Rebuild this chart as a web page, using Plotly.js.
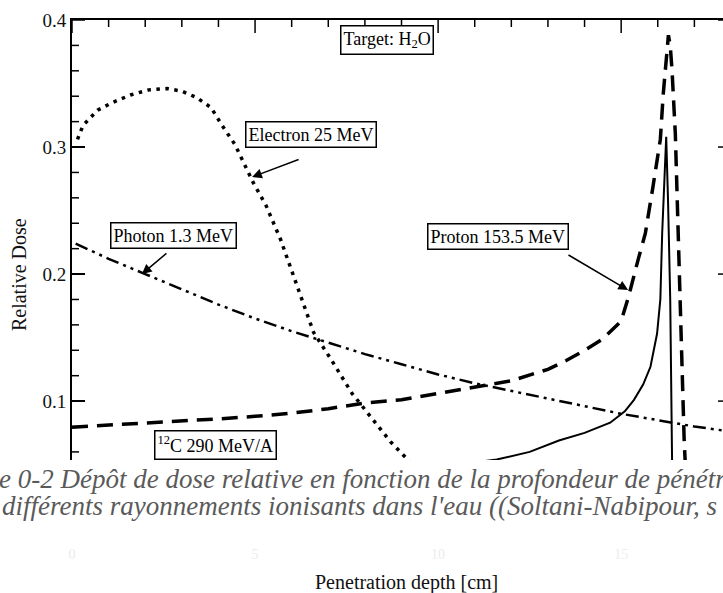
<!DOCTYPE html>
<html>
<head>
<meta charset="utf-8">
<script src="https://cdn.plot.ly/plotly-3.0.1.min.js"></script>
<style>
html, body { margin: 0; padding: 0; overflow: hidden; background: #ffffff; }
#chart { width: 731px; height: 593px; }
</style>
</head>
<body>
<div id="chart"></div>
<script>
// ---- data (depth in cm, relative dose) ----
const electronDepth = [0.15, 0.3, 0.7, 1.1, 1.6, 2.1, 2.6, 3.0, 3.4, 3.8, 4.1, 4.45, 4.95, 5.3, 5.7, 6.2, 6.6, 7.05, 7.65, 7.9, 8.7, 9.1, 9.7, 10.3, 11.0, 11.6];
const electronDose  = [0.306, 0.317, 0.329, 0.335, 0.341, 0.345, 0.346, 0.344, 0.339, 0.331, 0.317, 0.302, 0.272, 0.254, 0.227, 0.186, 0.154, 0.134, 0.106, 0.097, 0.068, 0.056, 0.038, 0.022, 0.010, 0.004];

const photonDepth = [0.1, 1, 2, 3, 4, 5, 6, 7, 8, 9, 10, 11, 12, 13, 14, 15, 16, 17, 18];
const photonDose  = [0.224, 0.212, 0.200, 0.188, 0.176, 0.165, 0.155, 0.146, 0.137, 0.129, 0.121, 0.114, 0.108, 0.102, 0.096, 0.090, 0.085, 0.080, 0.076];

const protonDepth = [0, 1, 2, 3, 4, 5, 6, 7, 8, 9, 10, 11, 12, 13, 13.5, 14, 14.5, 15, 15.2, 15.46, 15.66, 15.87, 16.07, 16.15, 16.23, 16.29, 16.34, 16.39, 16.48, 16.56, 16.64, 16.72, 16.80, 16.89];
const protonDose  = [0.0795, 0.081, 0.0825, 0.084, 0.086, 0.088, 0.0905, 0.094, 0.0985, 0.101, 0.106, 0.111, 0.116, 0.125, 0.132, 0.140, 0.149, 0.163, 0.182, 0.211, 0.232, 0.269, 0.306, 0.342, 0.369, 0.388, 0.380, 0.360, 0.310, 0.225, 0.140, 0.070, 0.020, 0.005];

const carbonDepth = [0, 2, 4, 6, 8, 10, 11.6, 12.5, 13.3, 14.0, 14.7, 15.1, 15.35, 15.6, 15.8, 15.98, 16.07, 16.12, 16.17, 16.23, 16.28, 16.34, 16.39, 16.43, 16.5, 17, 18];
const carbonDose  = [0.033, 0.035, 0.037, 0.040, 0.043, 0.048, 0.054, 0.060, 0.069, 0.075, 0.083, 0.092, 0.101, 0.113, 0.127, 0.153, 0.180, 0.232, 0.269, 0.308, 0.258, 0.180, 0.054, 0.020, 0.015, 0.012, 0.010];

// axis ticks: major step / minor step
const xRange = [0, 18];
const yRange = [0.0001, 0.4];
const xTickSteps = [5, 1];
const yTickSteps = [0.1, 0.02];

const seriesNames = ['Electron 25 MeV', 'Photon 1.3 MeV', 'Proton 153.5 MeV', '<sup>12</sup>C 290 MeV/A'];

// ---- geometry / styling ----
const W = 731, H = 593;
const M = { l: 72, r: 0, t: 20, b: 65 };
const plotW = W - M.l - M.r, plotH = H - M.t - M.b;
const serif = 'Liberation Serif, Times New Roman, serif';

// inside tick marks (top and right mirrored), built from the axis steps; lengths in px
function isMajor(v, major) { return Math.abs(v / major - Math.round(v / major)) < 1e-6; }
const pxX = (xRange[1] - xRange[0]) / plotW;   // data units per px, x
const pxY = (yRange[1] - yRange[0]) / plotH;   // data units per px, y
const tickX = [], tickY = [];
for (let k = 0; k * xTickSteps[1] <= xRange[1] + 1e-9; k++) {
  const v = k * xTickSteps[1];
  const len = (isMajor(v, xTickSteps[0]) ? 13 : 7) * pxY;
  tickX.push(v, v, null); tickY.push(yRange[1], yRange[1] - len, null);
}
for (let k = 1; k * yTickSteps[1] <= yRange[1] + 1e-9; k++) {
  const v = k * yTickSteps[1];
  const len = (isMajor(v, yTickSteps[0]) ? 13 : 7) * pxX;
  tickX.push(xRange[0], xRange[0] + len, null); tickY.push(v, v, null);
  tickX.push(xRange[1], xRange[1] - len, null); tickY.push(v, v, null);
}

const traces = [
  { x: tickX, y: tickY, mode: 'lines', hoverinfo: 'skip', showlegend: false, connectgaps: false,
    line: { color: '#000', width: 1.5 } },
  { x: electronDepth, y: electronDose, name: seriesNames[0], mode: 'lines',
    line: { color: '#000', width: 3.5, dash: '3.5px,5.5px' } },
  { x: photonDepth, y: photonDose, name: seriesNames[1], mode: 'lines',
    line: { color: '#000', width: 2.5, dash: '13px,5px,3px,5px,3px,5px' } },
  { x: protonDepth, y: protonDose, name: seriesNames[2], mode: 'lines',
    line: { color: '#000', width: 3.5, dash: '16px,9px' } },
  { x: carbonDepth, y: carbonDose, name: seriesNames[3], mode: 'lines',
    line: { color: '#000', width: 2 } }
];

function boxLabel(text, x, y) {
  return { text: text, x: x, y: y, xref: 'x', yref: 'y', showarrow: false,
    font: { family: serif, size: 18, color: '#000' },
    bgcolor: '#fff', bordercolor: '#000', borderwidth: 1.5, borderpad: 2,
    xanchor: 'center', yanchor: 'middle' };
}
function arrow(xh, yh, xt, yt) {
  return { text: ' ', x: xh, y: yh, ax: xt, ay: yt, xref: 'x', yref: 'y', axref: 'x', ayref: 'y',
    showarrow: true, arrowhead: 2, arrowsize: 1.3, arrowwidth: 1.5, arrowcolor: '#000', standoff: 0,
    font: { size: 1 } };
}

const annotations = [
  boxLabel('Target: H<sub>2</sub>O', 8.61, 0.3846),
  boxLabel(seriesNames[0], 6.53, 0.3098),
  boxLabel(seriesNames[1], 2.76, 0.2303),
  boxLabel(seriesNames[2], 11.64, 0.2299),
  boxLabel(seriesNames[3], 3.91, 0.0655),
  arrow(4.92, 0.2764, 6.23, 0.2906),
  arrow(1.91, 0.200, 2.62, 0.2173),
  arrow(15.19, 0.1874, 13.52, 0.2157),
  { text: 'Relative Dose', xref: 'paper', yref: 'paper', x: -0.0804, y: 0.498, textangle: -90,
    showarrow: false, xanchor: 'center', yanchor: 'middle',
    font: { family: serif, size: 20, color: '#111' } },
  { text: 'Penetration depth [cm]', xref: 'paper', yref: 'paper', x: 0.507, y: -0.108,
    showarrow: false, xanchor: 'center', yanchor: 'middle',
    font: { family: serif, size: 20, color: '#111' } },
  { text: '<i>e 0-2 Dépôt de dose relative en fonction de la profondeur de pénétr</i>', xref: 'paper', yref: 'paper',
    x: -0.1138, y: 0.0965, xanchor: 'left', yanchor: 'middle', showarrow: false,
    font: { family: serif, size: 27, color: '#5a5a5a' } },
  { text: "<i>différents rayonnements ionisants dans l'eau ((Soltani-Nabipour, s</i>", xref: 'paper', yref: 'paper',
    x: -0.1093, y: 0.0433, xanchor: 'left', yanchor: 'middle', showarrow: false,
    font: { family: serif, size: 27, color: '#5a5a5a' } }
];

// white caption block covering the lower part of the chart
const coverShape = { type: 'rect', xref: 'paper', yref: 'paper', x0: -0.15, x1: 1.05, y0: -0.03, y1: 0.1339,
  fillcolor: '#fff', line: { width: 0 }, layer: 'above' };

const layout = {
  width: W, height: H,
  margin: { l: M.l, r: M.r, t: M.t, b: M.b, pad: 0 },
  paper_bgcolor: '#fff', plot_bgcolor: '#fff',
  showlegend: false,
  xaxis: {
    range: xRange, tick0: 0, dtick: xTickSteps[0],
    ticks: 'inside', ticklen: 13, tickwidth: 1.5, tickcolor: '#000',
    showline: true, linewidth: 2, linecolor: '#000', mirror: true,
    showgrid: false, zeroline: false,
    tickfont: { family: serif, size: 14, color: '#ececec' }, ticklabelstandoff: 12
  },
  yaxis: {
    range: yRange, tick0: 0, dtick: yTickSteps[0],
    ticks: 'inside', ticklen: 13, tickwidth: 1.5, tickcolor: '#000',
    showline: true, linewidth: 2, linecolor: '#000', mirror: true,
    showgrid: false, zeroline: false,
    tickfont: { family: serif, size: 19, color: '#111' }
  },
  shapes: [coverShape],
  annotations: annotations
};

Plotly.newPlot('chart', traces, layout, { staticPlot: true, displayModeBar: false });
</script>
</body>
</html>
